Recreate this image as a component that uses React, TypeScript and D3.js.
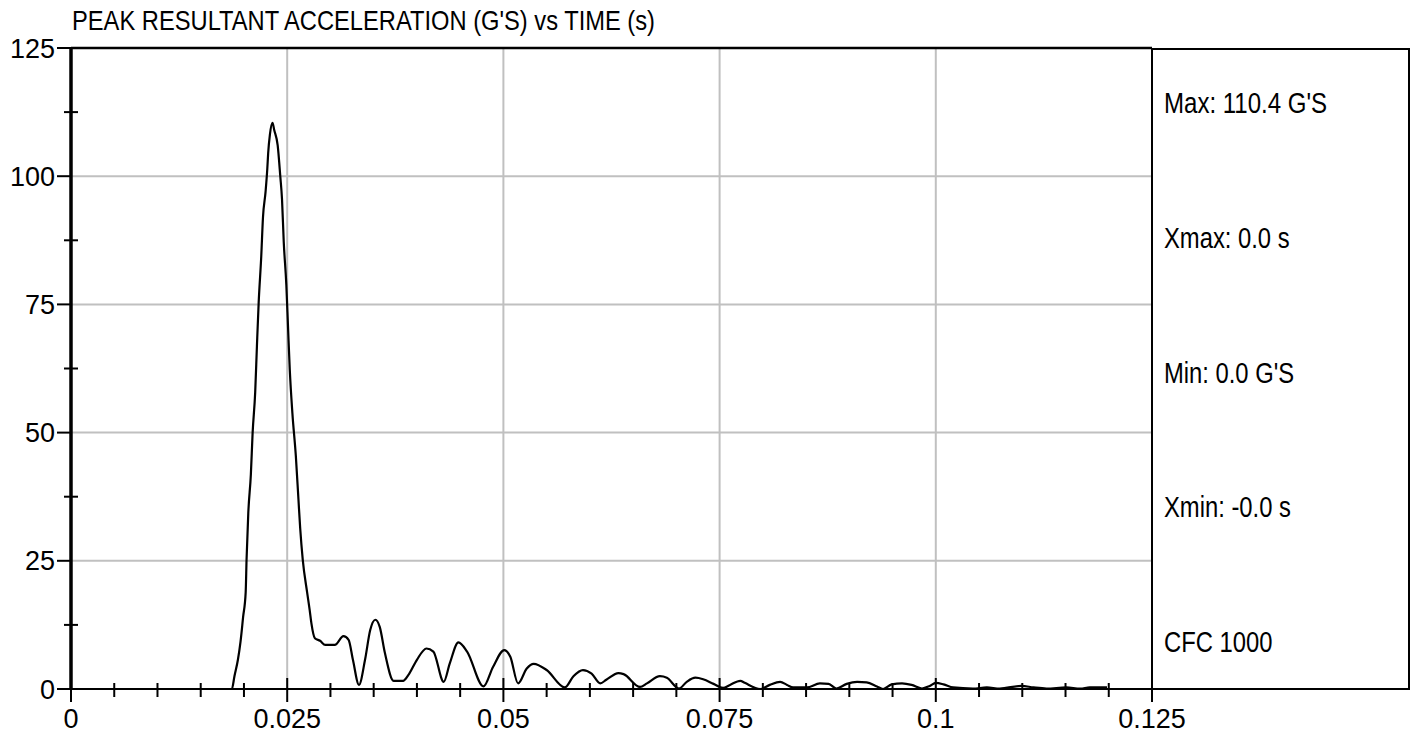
import React from "react";
import * as d3 from "d3";

const title = "PEAK RESULTANT ACCELERATION (G'S) vs TIME (s)";
const panelTexts = ["Max: 110.4 G'S", "Xmax: 0.0 s", "Min: 0.0 G'S", "Xmin: -0.0 s", "CFC 1000"];
const xTickValues = [0, 0.025, 0.05, 0.075, 0.1, 0.125];
const xTickLabels = ["0", "0.025", "0.05", "0.075", "0.1", "0.125"];
const yTickValues = [0, 25, 50, 75, 100, 125];
const yTickLabels = ["0", "25", "50", "75", "100", "125"];

const timeS = [
  0, 0.0186, 0.0189, 0.0193, 0.0196, 0.0199, 0.0202, 0.0203, 0.0205, 0.0208, 0.021,
  0.0213, 0.0215, 0.0217, 0.022, 0.0222, 0.0225, 0.0227, 0.0228, 0.023, 0.0233,
  0.0235, 0.0239, 0.0242, 0.0244, 0.0246, 0.0249, 0.0251, 0.0253, 0.0256, 0.026,
  0.0263, 0.0265, 0.0268, 0.0273, 0.0276, 0.0278, 0.0282, 0.0288, 0.0294, 0.0305,
  0.0315, 0.0321, 0.0326, 0.0333, 0.034, 0.0346, 0.0352, 0.0357, 0.0363, 0.0373,
  0.0384, 0.039, 0.04, 0.0411, 0.0419, 0.0431, 0.0438, 0.0448, 0.0458, 0.0477,
  0.0488, 0.0501, 0.0508, 0.0517, 0.0527, 0.0535, 0.055, 0.0571, 0.0581, 0.0592,
  0.0602, 0.0612, 0.0619, 0.0633, 0.0639, 0.0658, 0.0666, 0.0681, 0.0689, 0.0703,
  0.0712, 0.0722, 0.0731, 0.0743, 0.0754, 0.0762, 0.0774, 0.0779, 0.0797, 0.0808,
  0.082, 0.0828, 0.0835, 0.0851, 0.0866, 0.0876, 0.0885, 0.0897, 0.0909, 0.092,
  0.0932, 0.0939, 0.0949, 0.0961, 0.0972, 0.0984, 0.0993, 0.1, 0.1009, 0.102,
  0.1043, 0.1059, 0.1074, 0.1099, 0.1113, 0.1128, 0.1151, 0.1167, 0.1178, 0.1198,
];
const accelG = [
  0, 0, 2.5, 5.7, 9.2, 14, 18.9, 25.2, 34.3, 41.9, 49.9,
  57.9, 66.9, 75.3, 84.4, 92, 97, 101.5, 104.5, 108.1, 110.4,
  109, 106, 100, 95.5, 87.2, 78.8, 70.4, 62.2, 53.8, 45.4,
  37, 31.4, 25.2, 18.9, 15.4, 12.8, 9.9, 9.4, 8.6, 8.6,
  10.3, 9.6, 5.7, 0.8, 5.7, 11.5, 13.5, 12.1, 7.0, 1.6,
  1.6, 2.7, 5.7, 7.9, 7.3, 1.4, 5.0, 9.1, 7.3, 0.5,
  4.3, 7.6, 6.3, 1.1, 4.0, 4.9, 3.7, 0.3, 2.5, 3.7,
  3.0, 1.1, 1.8, 3.1, 2.9, 0.4, 1.1, 2.5, 2.2, 0.1,
  1.4, 2.2, 1.9, 1.0, 0.2, 0.8, 1.6, 1.2, 0, 0.8,
  1.4, 0.8, 0.3, 0.3, 1.1, 1.0, 0.1, 1.0, 1.4, 1.3,
  0.5, 0, 0.9, 1.1, 0.8, 0.1, 0.6, 1.2, 0.9, 0.3,
  0.1, 0.3, 0.1, 0.6, 0.3, 0.1, 0.3, 0.1, 0.3, 0.3,
];

const W = 1417;
const H = 740;
const left = 71;
const right = 1152;
const top = 48;
const bottom = 689;
const panelRight = 1409;

const NARROW = "'Liberation Sans Narrow', 'Arial Narrow', 'Liberation Sans', Arial, sans-serif";
const SANS = "'Liberation Sans', Arial, sans-serif";

// Arial-like advance widths (em) for textLength estimation
const adv: Record<string, number> = {
  " ": 0.278, ".": 0.278, ":": 0.278, "-": 0.333, "(": 0.333, ")": 0.333, "'": 0.191,
  "0": 0.556, "1": 0.556, "2": 0.556, "3": 0.556, "4": 0.556, "5": 0.556, "6": 0.556, "7": 0.556, "8": 0.556, "9": 0.556,
  A: 0.667, C: 0.722, E: 0.667, F: 0.611, G: 0.778, I: 0.278, K: 0.667, L: 0.556, M: 0.833, N: 0.722,
  O: 0.778, P: 0.667, R: 0.722, S: 0.667, T: 0.611, U: 0.722, X: 0.667,
  a: 0.556, i: 0.222, m: 0.833, n: 0.556, s: 0.5, v: 0.5, x: 0.5,
};
const narrowWidth = (s: string, size: number) =>
  s.split("").reduce((acc, c) => acc + (adv[c] ?? 0.55), 0) * 0.82 * size;

export default function App() {
  const x = d3.scaleLinear().domain([0, 0.125]).range([left, right]);
  const y = d3.scaleLinear().domain([0, 125]).range([bottom, top]);

  const data = timeS.map((t, i) => [t, accelG[i]] as [number, number]);
  const line = d3
    .line<[number, number]>()
    .x((d) => x(d[0]))
    .y((d) => y(d[1]))
    .curve(d3.curveMonotoneX);

  const xMinor = d3.range(0, 26).map((i) => i * 0.005).filter((v) => Math.abs((v / 0.025) - Math.round(v / 0.025)) > 1e-6);
  const yMinor = d3.range(0, 5).map((i) => 12.5 + i * 25);
  const gridX = xTickValues.filter((v) => v > 0 && v < 0.125);
  const gridY = yTickValues.filter((v) => v > 0 && v < 125);

  const panelY = d3.scaleLinear().domain([0, panelTexts.length - 1]).range([113, 652]);

  return (
    <svg width={W} height={H} style={{ position: "absolute", left: 0, top: 0, background: "#fff" }}>
      <rect x={0} y={0} width={W} height={H} fill="#fff" />
      {gridX.map((v) => (
        <line key={"gx" + v} x1={x(v)} x2={x(v)} y1={top} y2={bottom} stroke="#c0c0c0" strokeWidth={2} />
      ))}
      {gridY.map((v) => (
        <line key={"gy" + v} x1={left} x2={right} y1={y(v)} y2={y(v)} stroke="#c0c0c0" strokeWidth={2} />
      ))}
      <path d={line(data) || ""} fill="none" stroke="#000" strokeWidth={2.2} strokeLinejoin="round" />
      <line x1={left} x2={right} y1={top} y2={top} stroke="#000" strokeWidth={2.5} />
      <rect x={right} y={top + 1} width={panelRight - right} height={bottom - top - 1} fill="none" stroke="#000" strokeWidth={2} />
      <line x1={57} x2={panelRight} y1={bottom} y2={bottom} stroke="#000" strokeWidth={2} />
      <line x1={left} x2={left} y1={top - 1} y2={bottom} stroke="#000" strokeWidth={3.5} />
      {xMinor.map((v) => (
        <line key={"xm" + v} x1={x(v)} x2={x(v)} y1={bottom - 6} y2={bottom + 8} stroke="#000" strokeWidth={2} />
      ))}
      {xTickValues.map((v) => (
        <line key={"xM" + v} x1={x(v)} x2={x(v)} y1={v === 0 ? bottom : bottom - 11} y2={bottom + 13} stroke="#000" strokeWidth={2} />
      ))}
      {xTickValues.map((v, i) => (
        <text key={"xl" + v} x={x(v)} y={728} textAnchor="middle" fontFamily={SANS} fontSize={27} fill="#000">
          {xTickLabels[i]}
        </text>
      ))}
      {yMinor.map((v) => (
        <line key={"ym" + v} x1={left - 7} x2={left + 7} y1={y(v)} y2={y(v)} stroke="#000" strokeWidth={2} />
      ))}
      {yTickValues.map((v) => (
        <line key={"yM" + v} x1={57} x2={left} y1={y(v)} y2={y(v)} stroke="#000" strokeWidth={2} />
      ))}
      {yTickValues.map((v, i) => (
        <text key={"yl" + v} x={55} y={y(v) + 9.5} textAnchor="end" fontFamily={SANS} fontSize={27} fill="#000">
          {yTickLabels[i]}
        </text>
      ))}
      <text x={72} y={30} fontFamily={NARROW} fontSize={28.5} fill="#000" textLength={583} lengthAdjust="spacingAndGlyphs">
        {title}
      </text>
      {panelTexts.map((s, i) => (
        <text key={s} x={1164} y={panelY(i)} fontFamily={NARROW} fontSize={29} fill="#000" textLength={narrowWidth(s, 29)} lengthAdjust="spacingAndGlyphs">
          {s}
        </text>
      ))}
    </svg>
  );
}
